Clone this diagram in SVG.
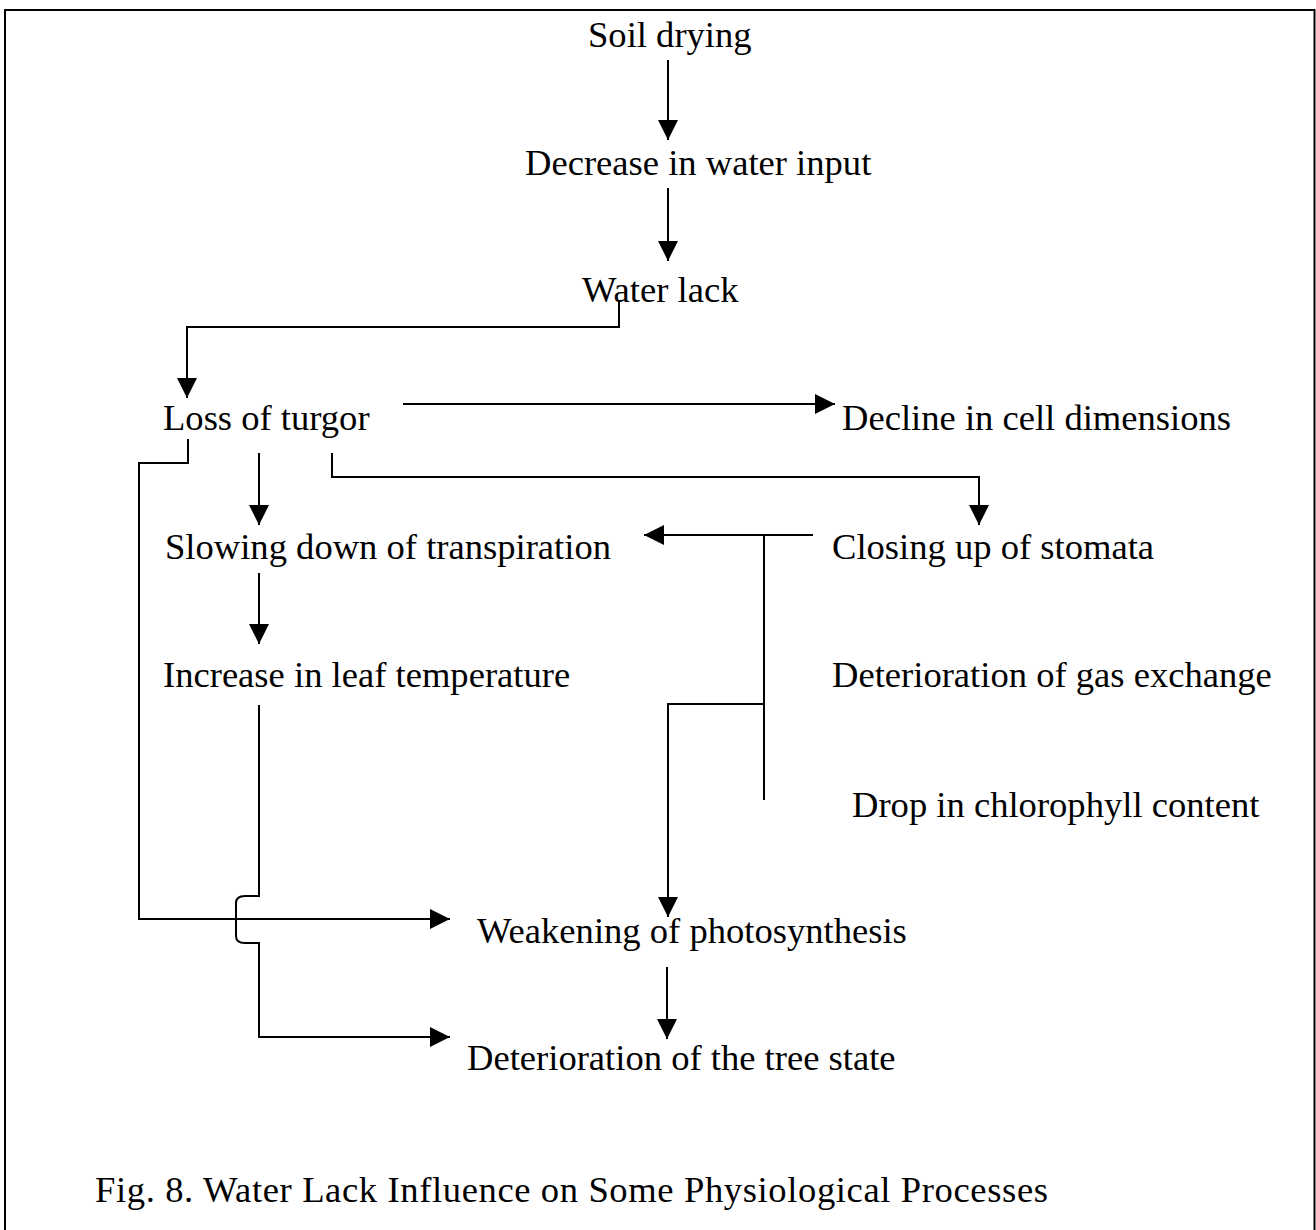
<svg xmlns="http://www.w3.org/2000/svg" width="1316" height="1230" viewBox="0 0 1316 1230">
<style>
text{font-family:"Liberation Serif","Times New Roman",serif;font-size:36.6px;fill:#000}
.c{fill:none;stroke:#000;stroke-width:2}
</style>
<defs>
<marker id="ah" markerUnits="userSpaceOnUse" markerWidth="20" markerHeight="20" viewBox="0 0 20 20" refX="20" refY="10" orient="auto">
<path d="M0,0 L20,10 L0,20 z" fill="#000"/>
</marker>
</defs>
<rect width="1316" height="1230" fill="#fff"/>
<path d="M5,1232 V10 H1314.5 V1232" fill="none" stroke="#000" stroke-width="2"/>
<g id="n-soil"><text x="588" y="47">Soil drying</text></g>
<g id="n-decrease"><text x="525" y="175">Decrease in water input</text></g>
<g id="n-waterlack"><text x="582" y="302">Water lack</text></g>
<g id="n-turgor"><text x="163" y="430">Loss of turgor</text></g>
<g id="n-decline"><text x="842" y="430">Decline in cell dimensions</text></g>
<g id="n-slowing"><text x="165" y="559">Slowing down of transpiration</text></g>
<g id="n-closing"><text x="832" y="559">Closing up of stomata</text></g>
<g id="n-increase"><text x="163" y="687">Increase in leaf temperature</text></g>
<g id="n-gas"><text x="832" y="687">Deterioration of gas exchange</text></g>
<g id="n-chloro"><text x="852" y="817">Drop in chlorophyll content</text></g>
<g id="n-weak"><text x="477" y="943">Weakening of photosynthesis</text></g>
<g id="n-tree"><text x="467" y="1070">Deterioration of the tree state</text></g>
<g id="caption"><text x="95" y="1202" textLength="953" lengthAdjust="spacing">Fig. 8. Water Lack Influence on Some Physiological Processes</text></g>
<g id="connectors">
<path class="c" d="M668,60 V140" marker-end="url(#ah)"/>
<path class="c" d="M668,188 V261" marker-end="url(#ah)"/>
<path class="c" d="M619,302 V327 H187 V398" marker-end="url(#ah)"/>
<path class="c" d="M403,404 H835" marker-end="url(#ah)"/>
<path class="c" d="M332,453 V477 H979 V525" marker-end="url(#ah)"/>
<path class="c" d="M188,439 V463 H139 V919 H450" marker-end="url(#ah)"/>
<path class="c" d="M259,453 V525" marker-end="url(#ah)"/>
<path class="c" d="M259,573 V644" marker-end="url(#ah)"/>
<path class="c" d="M813,535 H644" marker-end="url(#ah)"/>
<path class="c" d="M764,535 V800"/>
<path class="c" d="M764,704 H668 V917" marker-end="url(#ah)"/>
<path class="c" d="M667,967 V1039" marker-end="url(#ah)"/>
<path class="c" d="M259,705 V896 H245 Q236,896 236,903 V936 Q236,943 245,943 H259 V1037 H450" marker-end="url(#ah)"/>
</g>
</svg>
